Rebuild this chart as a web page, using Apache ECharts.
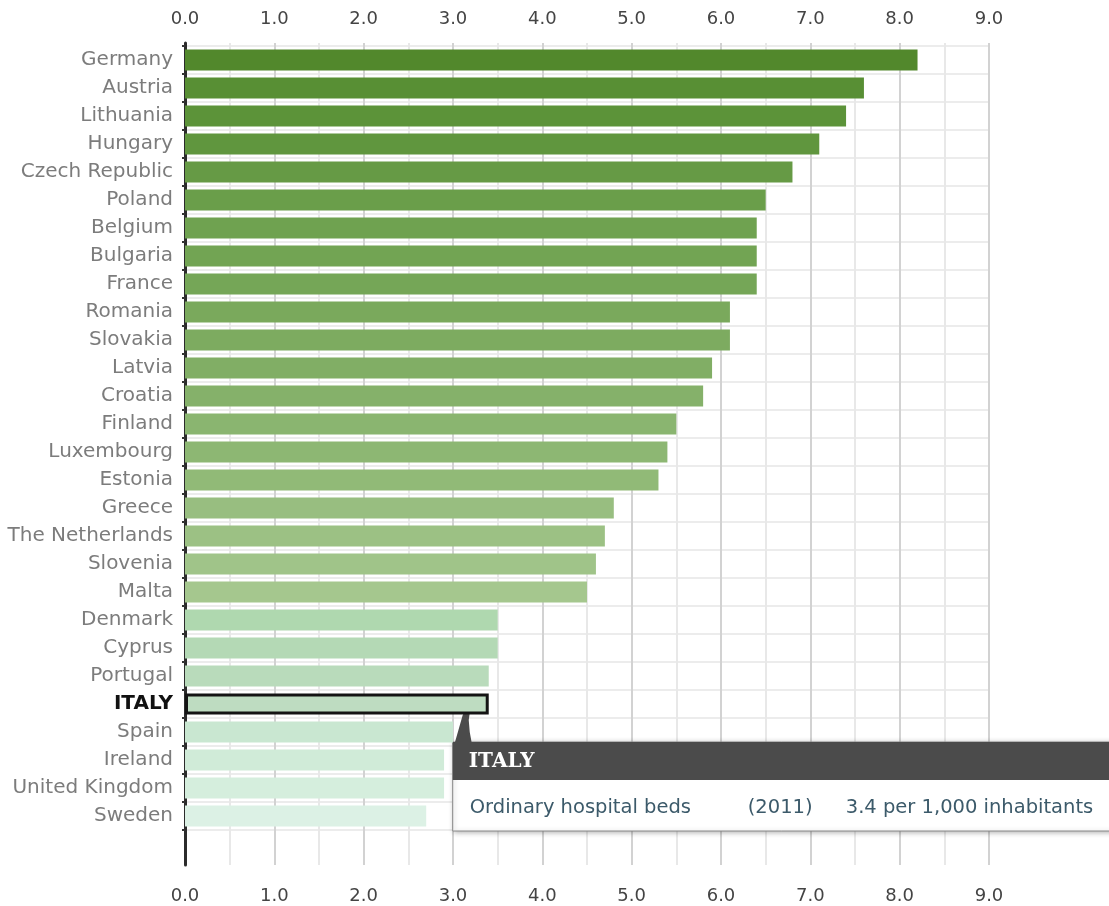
<!DOCTYPE html>
<html>
<head>
<meta charset="utf-8">
<style>
  html, body { margin: 0; padding: 0; background: #ffffff; }
  #chart { width: 1109px; height: 906px; }
</style>
<script src="https://cdn.jsdelivr.net/npm/echarts@6/dist/echarts.min.js"></script>
</head>
<body>
<div id="chart"></div>
<script>
// Ordinary hospital beds per 1,000 inhabitants, EU countries (2011)
const countries = [
  'Germany', 'Austria', 'Lithuania', 'Hungary', 'Czech Republic', 'Poland',
  'Belgium', 'Bulgaria', 'France', 'Romania', 'Slovakia', 'Latvia', 'Croatia',
  'Finland', 'Luxembourg', 'Estonia', 'Greece', 'The Netherlands', 'Slovenia',
  'Malta', 'Denmark', 'Cyprus', 'Portugal', 'ITALY', 'Spain', 'Ireland',
  'United Kingdom', 'Sweden'
];
const beds = [
  8.2, 7.6, 7.4, 7.1, 6.8, 6.5,
  6.4, 6.4, 6.4, 6.1, 6.1, 5.9, 5.8,
  5.5, 5.4, 5.3, 4.8, 4.7, 4.6,
  4.5, 3.5, 3.5, 3.4, 3.4, 3.0, 2.9,
  2.9, 2.7
];
const barColors = [
  '#52882c', '#588f34', '#5c9339', '#60963e', '#669a45', '#6a9e4a',
  '#6fa250', '#72a453', '#75a657', '#7aa95c', '#7dab60', '#81ae65', '#85b16a',
  '#8ab570', '#8db773', '#91ba77', '#98be80', '#9cc184', '#a0c489',
  '#a5c78e', '#afd8af', '#b4d9b5', '#b9dbbb', '#bedcc1', '#c9e7d1', '#d0ebd8',
  '#d5eedd', '#dcf1e5'
];
const highlighted = 'ITALY';
const indicatorName = 'Ordinary hospital beds';
const indicatorYear = '(2011)';
const xMin = 0, xMax = 9, xStep = 1;

const FONT = "'DejaVu Sans', Verdana, sans-serif";

const chart = echarts.init(document.getElementById('chart'), null, { renderer: 'canvas' });

const tickLabel = {
  show: true,
  color: '#444444',
  fontFamily: FONT,
  fontSize: 18,
  formatter: v => v.toFixed(1)
};

const option = {
  animation: false,
  backgroundColor: '#ffffff',
  grid: [
    // frame: vertical gridlines, axis line and the two tick-label rows
    { left: 185, right: 120, top: 43, bottom: 41 },
    // bars
    { left: 185, right: 120, top: 46, bottom: 76 }
  ],
  xAxis: [
    {
      gridIndex: 0, type: 'value', position: 'top',
      min: xMin, max: xMax, interval: xStep,
      axisLine: { show: false }, axisTick: { show: false },
      axisLabel: Object.assign({ margin: 15 }, tickLabel),
      splitLine: { show: true, lineStyle: { color: '#d2d2d2', width: 2 } },
      minorTick: { show: false, splitNumber: 2 },
      minorSplitLine: { show: true, lineStyle: { color: '#e8e8e8', width: 2 } }
    },
    {
      gridIndex: 0, type: 'value', position: 'bottom',
      min: xMin, max: xMax, interval: xStep,
      axisLine: { show: false }, axisTick: { show: false },
      axisLabel: Object.assign({ margin: 22 }, tickLabel),
      splitLine: { show: false }
    },
    {
      gridIndex: 1, type: 'value',
      min: xMin, max: xMax, interval: xStep,
      show: false
    }
  ],
  yAxis: [
    {
      gridIndex: 0, type: 'value', min: 0, max: 1,
      axisLine: { show: true, lineStyle: { color: '#2b2b2b', width: 3 } },
      axisTick: { show: false }, axisLabel: { show: false },
      splitLine: { show: false }
    },
    {
      gridIndex: 1, type: 'category', inverse: true,
      data: countries,
      axisLine: { show: false },
      axisTick: { show: true, length: 3, lineStyle: { color: '#333333', width: 2 } },
      axisLabel: {
        margin: 12,
        color: '#7c7c7c',
        fontFamily: FONT,
        fontSize: 20,
        formatter: v => v === highlighted ? '{hl|' + v + '}' : v,
        rich: {
          hl: { color: '#111111', fontFamily: FONT, fontSize: 20, fontWeight: 'bold' }
        }
      },
      splitLine: { show: true, lineStyle: { color: '#ececec', width: 2 } }
    }
  ],
  series: [
    {
      type: 'bar',
      xAxisIndex: 2, yAxisIndex: 1,
      barWidth: 21,
      data: beds.map((v, i) => ({
        value: v,
        itemStyle: countries[i] === highlighted
          ? { color: barColors[i], borderColor: '#141414', borderWidth: 3 }
          : { color: barColors[i] }
      })),
      z: 3
    }
  ]
};

chart.setOption(option);

// Callout for the highlighted country, anchored at the end of its bar
const hIdx = countries.indexOf(highlighted);
const hVal = beds[hIdx];
const anchor = chart.convertToPixel({ xAxisIndex: 2, yAxisIndex: 1 }, [hVal, highlighted]);
const boxX = anchor[0] - 36;
const boxY = anchor[1] + 38;
const boxW = 720, headH = 38, boxH = 89;
const bodyColor = '#3c5a6a';
const bodyFont = "19.5px 'DejaVu Sans', Verdana, sans-serif";

chart.setOption({
  graphic: [
    {
      type: 'group', x: boxX, y: boxY, z: 100,
      children: [
        {
          type: 'rect',
          shape: { x: 0, y: 0, width: boxW, height: boxH },
          style: {
            fill: '#ffffff', stroke: '#8a8a8a', lineWidth: 1,
            shadowBlur: 5, shadowColor: 'rgba(0,0,0,0.3)', shadowOffsetX: 1, shadowOffsetY: 1
          }
        },
        {
          type: 'rect',
          shape: { x: 0, y: 0, width: boxW, height: headH },
          style: { fill: '#4b4b4b' }
        },
        {
          // pointer tail linking the box to the bar end
          type: 'polygon',
          shape: {
            points: [[2, 1], [8, -20], [10, -27], [13, -32], [18, -35], [25, -36],
                     [20, -33], [17, -29], [16, -22], [17, -10], [19, 1]]
          },
          style: { fill: '#4b4b4b' }
        },
        {
          type: 'text', x: 16, y: headH / 2 + 1,
          style: {
            text: highlighted, fill: '#ffffff',
            font: "bold 20px 'DejaVu Serif', Georgia, serif",
            verticalAlign: 'middle'
          }
        },
        {
          type: 'text', x: 17, y: 66,
          style: { text: indicatorName, fill: bodyColor, font: bodyFont, verticalAlign: 'middle' }
        },
        {
          type: 'text', x: 295, y: 66,
          style: { text: indicatorYear, fill: bodyColor, font: bodyFont, verticalAlign: 'middle' }
        },
        {
          type: 'text', x: 393, y: 66,
          style: {
            text: hVal.toFixed(1) + ' per 1,000 inhabitants', fill: bodyColor,
            font: bodyFont, verticalAlign: 'middle'
          }
        }
      ]
    }
  ]
});
</script>
</body>
</html>
